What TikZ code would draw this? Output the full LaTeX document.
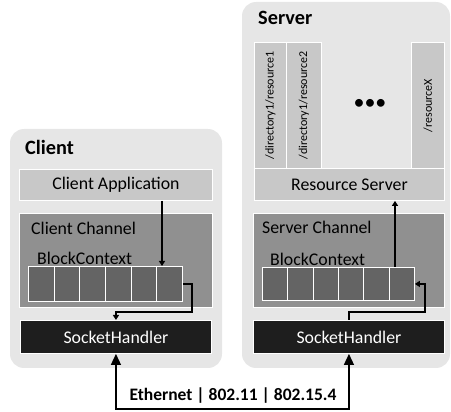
\documentclass[tikz,border=0pt]{standalone}
\usepackage{fontspec}
\setmainfont{Carlito}
\usetikzlibrary{arrows.meta}
\definecolor{outerbg}{HTML}{E6E6E6}
\definecolor{appbg}{HTML}{C8C8C8}
\definecolor{chanbg}{HTML}{909090}
\definecolor{cellbg}{HTML}{646464}
\definecolor{sockbg}{HTML}{1E1E1E}
\tikzset{
  outerbox/.style={fill=outerbg, rounded corners=14pt},
  inbox/.style={draw=white, line width=0.9pt, inner sep=0pt, anchor=north west, font=\fontsize{17.8}{20}\selectfont},
  cellbox/.style={inbox, fill=cellbg},
  titletxt/.style={font=\bfseries\fontsize{20.3}{22}\selectfont, anchor=west, inner sep=0pt},
  labtxt/.style={font=\fontsize{17.8}{20}\selectfont, anchor=west, inner sep=0pt},
  restxt/.style={font=\fontsize{12}{14}\selectfont, rotate=90, inner sep=0pt},
  arr/.style={draw=black, line width=1.2pt, -{Triangle[length=5pt,width=6pt]}},
  bigarr/.style={draw=black, line width=1.3pt, {Triangle[length=11pt,width=10pt]}-{Triangle[length=11pt,width=10pt]}}
}
\begin{document}
\begin{tikzpicture}[x=1pt,y=-1pt]
\useasboundingbox (0,0) rectangle (451,412);
% outer boxes
\path[outerbox] (10,129) rectangle (222,368);
\path[outerbox] (242,2) rectangle (450,368);
\node[titletxt] (ctitle) at (25,147) {Client};
\node[titletxt] (stitle) at (258,18) {Server};
% client
\node[inbox, fill=appbg, minimum width=193pt, minimum height=31pt] (app) at (19,169) {Client Application};
\node[inbox, fill=chanbg, minimum width=193pt, minimum height=94pt] (cchan) at (19,213) {};
\node[labtxt] (cchantxt) at (31,228) {Client Channel};
\node[labtxt] (cbctxt) at (37,258) {BlockContext};
\foreach \i in {1,...,6}{
  \node[cellbox, minimum width=25.67pt, minimum height=35pt] (cc\i) at ({28+(\i-1)*25.67},266) {};
}
\node[inbox, fill=sockbg, text=white, minimum width=191pt, minimum height=33pt] (csock) at (20,320) {SocketHandler};
% server
\foreach \i/\xx/\ww/\t in {1/254/32/{/directory1/resource1}, 2/286/35/{/directory1/resource2}, 3/411/33/{/resourceX}}{
  \node[inbox, fill=appbg, minimum width=\ww pt, minimum height=126pt] (res\i) at (\xx,42) {};
  \node[restxt] at (res\i.center) {\t};
}
\node[font=\fontsize{22}{22}\selectfont, inner sep=0pt] (dots) at (370,104) {\textbullet\textbullet\textbullet};
\node[inbox, fill=appbg, minimum width=190pt, minimum height=32pt] (rs) at (254,168) {Resource Server};
\node[inbox, fill=chanbg, minimum width=191pt, minimum height=94pt] (schan) at (253,213) {};
\node[labtxt] (schantxt) at (262,227) {Server Channel};
\node[labtxt] (sbctxt) at (270,259) {BlockContext};
\foreach \i in {1,...,6}{
  \node[cellbox, minimum width=25.33pt, minimum height=33pt] (sc\i) at ({262+(\i-1)*25.33},267) {};
}
\node[inbox, fill=sockbg, text=white, minimum width=191pt, minimum height=33pt] (ssock) at (253,320) {SocketHandler};
% connectors
\coordinate (cdown) at (162,0);
\draw[arr] (app.south -| cdown) -- (cc6.north -| cdown);
\coordinate (cbend) at (192,312);
\draw[arr] (cc6.east) -| (cbend) -| (csock.north);
\coordinate (sup) at (395,0);
\draw[arr] (sc6.north -| sup) -- (rs.south -| sup);
\coordinate (sbend) at (425,312);
\draw[arr] (ssock.north) |- (sbend) |- (sc6.east);
\coordinate (ebot) at (0,409);
\draw[bigarr] (csock.south) -- (csock.south |- ebot) -| (ssock.south);
\node[font=\bfseries\fontsize{17.5}{20}\selectfont, inner sep=0pt] (eth) at (233,396) {Ethernet | 802.11 | 802.15.4};
\end{tikzpicture}
\end{document}
